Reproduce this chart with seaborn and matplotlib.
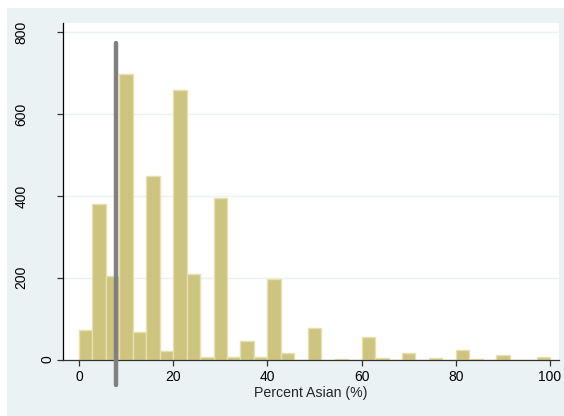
#!/usr/bin/env python3
"""
Histogram of percent Asian, Stata-like look
"""

import numpy as np
import pandas as pd
import matplotlib
matplotlib.use('Agg')
import matplotlib.pyplot as plt
from matplotlib.patches import Rectangle
import seaborn as sns

# 35 equal-width bins from 0 to 100
n_bins = 35
bin_range = (0, 100)
bin_counts = [71, 381, 205, 699, 68, 448, 20, 659, 210, 6,
              394, 6, 46, 6, 196, 16, 0, 78, 0, 2,
              0, 56, 4, 0, 15, 0, 4, 0, 23, 1,
              0, 10, 0, 0, 5]
marker_x = 7.9
marker_span = (-62, 775)
x_ticks = [0, 20, 40, 60, 80, 100]
y_ticks = [0, 200, 400, 600, 800]
x_label = 'Percent Asian (%)'

bg = '#EAF2F3'

sns.set_style('white')
plt.rcParams['font.family'] = ['Liberation Sans', 'DejaVu Sans']

W, H = 564, 416
fig = plt.figure(figsize=(W / 100, H / 100), dpi=100)
fig.patch.set_facecolor('white')
# outer graph region
fig.patches.append(Rectangle((7 / W, 0), 1, 1 - 8 / H, transform=fig.transFigure,
                             facecolor=bg, edgecolor='none', zorder=-10))

left, right, top, bottom = 63.3, 559, 23, 359.5
ax = fig.add_axes([left / W, (H - bottom) / H, (right - left) / W, (bottom - top) / H])
ax.set_facecolor('white')

edges = np.linspace(bin_range[0], bin_range[1], n_bins + 1)
df = pd.DataFrame({'pct': (edges[:-1] + edges[1:]) / 2, 'n': bin_counts})
sns.histplot(data=df, x='pct', weights='n', bins=n_bins, binrange=bin_range, ax=ax,
             color='#CCC47F', edgecolor='#E6E0AE', linewidth=1, alpha=1, zorder=2)

# reference line
ax.plot([marker_x, marker_x], list(marker_span), color='#808080', linewidth=3.2,
        solid_capstyle='round', clip_on=False, zorder=5)

ax.set_xlim(-3.33, 101.9)
ax.set_ylim(0, 823)
ax.set_xticks(x_ticks)
ax.set_yticks(y_ticks)
ax.set_yticklabels([str(v) for v in y_ticks], rotation=90, va='center')

for v in y_ticks[1:]:
    ax.axhline(v, color=bg, linewidth=1, zorder=0)

for side in ['top', 'right']:
    ax.spines[side].set_visible(False)
ax.spines['left'].set_color('#000000')
ax.spines['bottom'].set_color('#333333')
ax.spines['left'].set_linewidth(0.9)
ax.spines['bottom'].set_linewidth(0.9)

ax.tick_params(axis='both', which='major', direction='out', length=4.3, width=0.9,
               color='#333333', labelsize=10, labelcolor='#000000')
ax.tick_params(axis='x', pad=3, bottom=True)
ax.tick_params(axis='y', left=True)
# Stata pushes the wider labels further from the axis
for tick, v in zip(ax.yaxis.get_major_ticks(), y_ticks):
    tick.set_pad(2 if v == 0 else 21)

ax.set_xlabel(x_label, fontsize=10.2, labelpad=2)
ax.set_ylabel('')

fig.savefig('out.png', dpi=100, facecolor=fig.get_facecolor())
print("Created: out.png")
